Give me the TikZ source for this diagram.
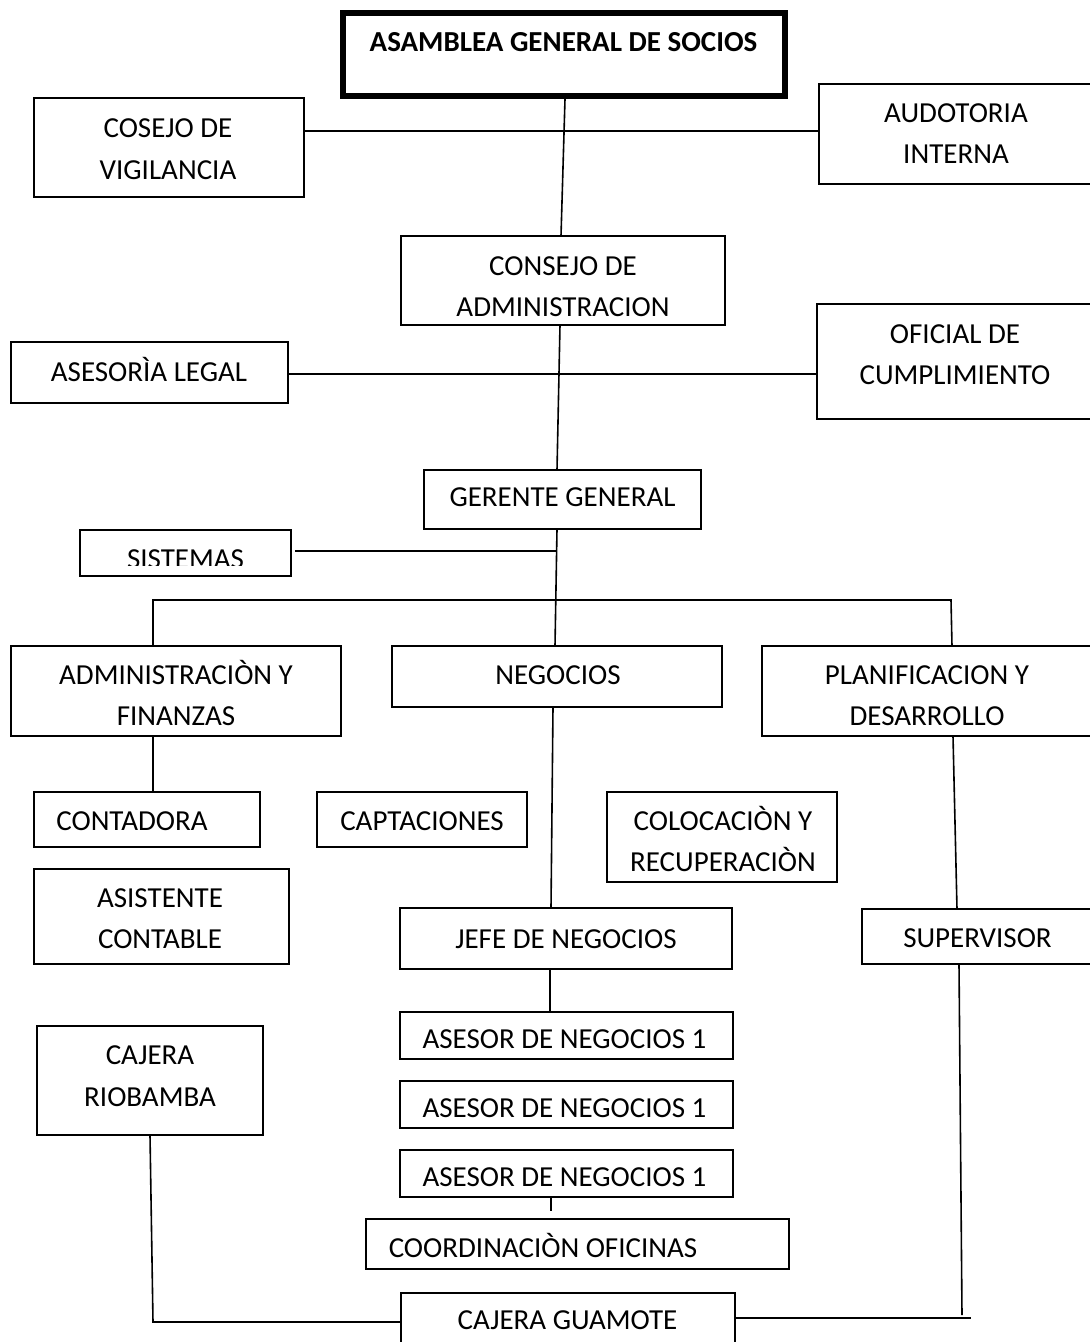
\documentclass[tikz,border=0pt]{standalone}
\usepackage{fontspec}
\setmainfont{Carlito}
\usetikzlibrary{fit}
\begin{document}
\begin{tikzpicture}[x=1pt,y=-1pt,
  box/.style={draw=black,line width=1.6pt,inner sep=0pt,rectangle},
  topbox/.style={box,line width=6pt},
  lbl/.style={inner sep=0pt,anchor=base,font=\fontsize{29}{35}\selectfont},
  boldlbl/.style={lbl,font=\fontsize{29}{35}\selectfont\bfseries},
  link/.style={draw=black,line width=1.6pt}]
\clip (0,0) rectangle (1090,1342);
\fill[white] (0,0) rectangle (1090,1342);

% ---------- boxes ----------
\node[topbox,fit={(343,13) (785,96)}] (asamblea) {};
\node[box,fit={(34,98) (304,197)}]    (vigilancia) {};
\node[box,fit={(819,84) (1100,184)}]  (auditoria) {};
\node[box,fit={(401,236) (725,325)}]  (cadmin) {};
\node[box,fit={(11,342) (288,403)}]   (legal) {};
\node[box,fit={(817,304) (1100,419)}] (oficial) {};
\node[box,fit={(424,470) (701,529)}]  (gerente) {};
\node[box,fit={(80,530) (291,576)}]   (sistemas) {};
\node[box,fit={(11,646) (341,736)}]   (adminfin) {};
\node[box,fit={(392,646) (722,707)}]  (negocios) {};
\node[box,fit={(762,646) (1100,736)}] (planif) {};
\node[box,fit={(34,792) (260,847)}]   (contadora) {};
\node[box,fit={(317,792) (527,847)}]  (captaciones) {};
\node[box,fit={(607,792) (837,882)}]  (colocacion) {};
\node[box,fit={(34,869) (289,964)}]   (asistente) {};
\node[box,fit={(400,908) (732,969)}]  (jefe) {};
\node[box,fit={(862,909) (1100,964)}] (supervisor) {};
\node[box,fit={(37,1026) (263,1135)}] (riobamba) {};
\node[box,fit={(400,1012) (733,1059)}] (asesorA) {};
\node[box,fit={(400,1081) (733,1128)}] (asesorB) {};
\node[box,fit={(400,1150) (733,1197)}] (asesorC) {};
\node[box,fit={(366,1219) (789,1269)}] (coord) {};
\node[box,fit={(401,1293) (735,1370)}] (guamote) {};

% ---------- texts ----------
\node[boldlbl] (asamblea-t) at (563.5,51) {ASAMBLEA GENERAL DE SOCIOS};
\node[lbl] (vigilancia-t1) at (168,137) {COSEJO DE};
\node[lbl] (vigilancia-t2) at (168,179) {VIGILANCIA};
\node[lbl] (auditoria-t1) at (956,122.5) {AUDOTORIA};
\node[lbl] (auditoria-t2) at (956,163.5) {INTERNA};
\node[lbl] (cadmin-t1) at (563,275.5) {CONSEJO DE};
\node[lbl] (cadmin-t2) at (563,316) {ADMINISTRACION};
\node[lbl] (legal-t) at (149,381) {ASESORÌA LEGAL};
\node[lbl] (oficial-t1) at (955,343.5) {OFICIAL DE};
\node[lbl] (oficial-t2) at (955,384.5) {CUMPLIMIENTO};
\node[lbl] (gerente-t) at (562.5,506.5) {GERENTE GENERAL};
\begin{scope}
  \clip (80,530) rectangle (291,565);
  \node[lbl] (sistemas-t) at (185.5,568) {SISTEMAS};
\end{scope}
\node[lbl] (adminfin-t1) at (176,684.5) {ADMINISTRACIÒN Y};
\node[lbl] (adminfin-t2) at (176,725.5) {FINANZAS};
\node[lbl] (negocios-t) at (558,684.5) {NEGOCIOS};
\node[lbl] (planif-t1) at (927,684.5) {PLANIFICACION Y};
\node[lbl] (planif-t2) at (927,725.5) {DESARROLLO};
\node[lbl] (contadora-t) at (132,830.5) {CONTADORA};
\node[lbl] (captaciones-t) at (422,830.5) {CAPTACIONES};
\node[lbl] (colocacion-t1) at (723,830.5) {COLOCACIÒN Y};
\node[lbl] (colocacion-t2) at (723,871) {RECUPERACIÒN};
\node[lbl] (asistente-t1) at (160,907.5) {ASISTENTE};
\node[lbl] (asistente-t2) at (160,948.5) {CONTABLE};
\node[lbl] (jefe-t) at (566,948.5) {JEFE DE NEGOCIOS};
\node[lbl] (supervisor-t) at (977.5,947.5) {SUPERVISOR};
\node[lbl] (riobamba-t1) at (150,1064.5) {CAJERA};
\node[lbl] (riobamba-t2) at (150,1106.5) {RIOBAMBA};
\node[lbl] (asesorA-t) at (564.5,1048.5) {ASESOR DE NEGOCIOS 1};
\node[lbl] (asesorB-t) at (564.5,1117.5) {ASESOR DE NEGOCIOS 1};
\node[lbl] (asesorC-t) at (564.5,1186.5) {ASESOR DE NEGOCIOS 1};
\node[lbl] (coord-t) at (543,1257.5) {COORDINACIÒN OFICINAS};
\node[lbl] (guamote-t) at (567.5,1329.5) {CAJERA GUAMOTE};

% ---------- connection points ----------
\coordinate (asamblea-s)   at (565,99);
\coordinate (cadmin-n)     at (561,236);
\coordinate (vigilancia-e) at (304,131);
\coordinate (auditoria-w)  at (819,131);
\coordinate (cadmin-s)     at (560,325);
\coordinate (gerente-n)    at (557,470);
\coordinate (legal-e)      at (288,374);
\coordinate (oficial-w)    at (817,374);
\coordinate (gerente-s)    at (557,529);
\coordinate (negocios-n)   at (555,646);
\coordinate (sistemas-e)   at (295,551);
\coordinate (trunk-s)      at (556,551);
\coordinate (bar-w)        at (153,600);
\coordinate (bar-e)        at (951,600);
\coordinate (adminfin-n)   at (153,646);
\coordinate (planif-n)     at (952,646);
\coordinate (adminfin-s)   at (153,736);
\coordinate (contadora-n)  at (153,792);
\coordinate (negocios-s)   at (553,707);
\coordinate (jefe-n)       at (551,908);
\coordinate (planif-s)     at (953,736);
\coordinate (supervisor-n) at (957,909);
\coordinate (jefe-s)       at (550,969);
\coordinate (asesorA-n)    at (550,1012);
\coordinate (asesorC-s)    at (551,1197);
\coordinate (tick-end)     at (551,1211);
\coordinate (riobamba-s)   at (150,1135);
\coordinate (corner-sw)    at (153,1322);
\coordinate (guamote-w)    at (401,1322);
\coordinate (guamote-e)    at (735,1318);
\coordinate (corner-se)    at (971,1318);
\coordinate (rise-s)       at (962,1315);
\coordinate (supervisor-s) at (959,964);

% ---------- connectors ----------
\draw[link] (asamblea-s) -- (cadmin-n);
\draw[link] (vigilancia-e) -- (auditoria-w);
\draw[link] (cadmin-s) -- (gerente-n);
\draw[link] (legal-e) -- (oficial-w);
\draw[link] (gerente-s) -- (negocios-n);
\draw[link] (sistemas-e) -- (trunk-s);
\draw[link] (adminfin-n) -- (bar-w) -- (bar-e) -- (planif-n);
\draw[link] (adminfin-s) -- (contadora-n);
\draw[link] (negocios-s) -- (jefe-n);
\draw[link] (planif-s) -- (supervisor-n);
\draw[link] (jefe-s) -- (asesorA-n);
\draw[link] (asesorC-s) -- (tick-end);
\draw[link] (riobamba-s) -- (corner-sw) -- (guamote-w);
\draw[link] (guamote-e) -- (corner-se);
\draw[link] (rise-s) -- (supervisor-s);
\end{tikzpicture}
\end{document}
